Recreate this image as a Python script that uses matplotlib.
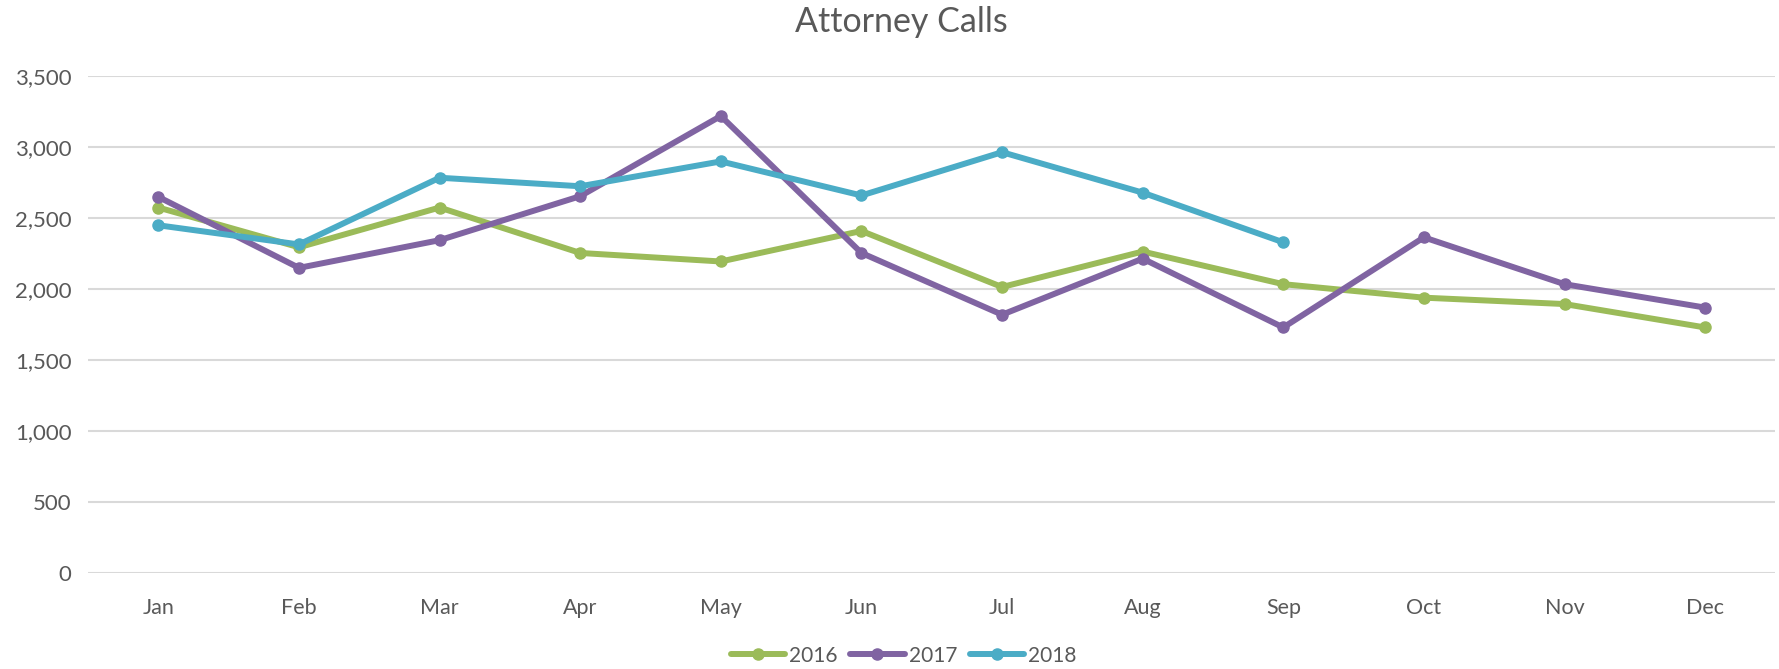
import matplotlib
matplotlib.use("Agg")
import matplotlib.pyplot as plt
from matplotlib.ticker import FuncFormatter, MultipleLocator

months = ["Jan", "Feb", "Mar", "Apr", "May", "Jun", "Jul", "Aug", "Sep", "Oct", "Nov", "Dec"]
calls_2016 = [2575, 2295, 2575, 2255, 2195, 2410, 2015, 2265, 2035, 1940, 1895, 1730]
calls_2017 = [2650, 2150, 2345, 2655, 3220, 2255, 1820, 2215, 1730, 2365, 2035, 1870]
calls_2018 = [2450, 2315, 2785, 2725, 2900, 2660, 2965, 2680, 2330]

series = [("2016", calls_2016, "#9BBB59"),
          ("2017", calls_2017, "#8064A2"),
          ("2018", calls_2018, "#4BACC6")]

plt.rcParams['font.family'] = ['Lato', 'DejaVu Sans']
text_color = "#595959"

fig = plt.figure(figsize=(17.79, 6.69), dpi=100)
ax = fig.add_axes([0.0495, 0.1435, 0.9485, 0.7425])

for label, vals, col in series:
    ax.plot(range(len(vals)), vals, color=col, lw=4.3, marker='o', ms=8,
            label=label, solid_joinstyle='round', solid_capstyle='round')

ax.set_xlim(-0.5, len(months) - 0.5)
ax.set_ylim(0, 3500)
ax.set_xticks(range(len(months)))
ax.set_xticklabels(months)
ax.yaxis.set_major_locator(MultipleLocator(500))
ax.yaxis.set_major_formatter(FuncFormatter(lambda v, p: f"{int(v):,}"))
ax.grid(axis='y', color='#D9D9D9', lw=1.5)
ax.set_axisbelow(True)
for s in ax.spines.values():
    s.set_visible(False)
ax.tick_params(axis='x', length=0, labelsize=15.5, colors=text_color, pad=18)
ax.tick_params(axis='y', length=0, labelsize=16, colors=text_color, pad=12)

fig.text(0.5065, 0.967, "Attorney Calls", ha='center', va='center', fontsize=24.5, color=text_color)

leg = fig.legend(loc='center', bbox_to_anchor=(0.508, 0.02), ncol=3, frameon=False,
                 fontsize=15, handlelength=2.6, handletextpad=0.2, columnspacing=0.6,
                 labelcolor=text_color)

fig.savefig("out.png", dpi=100)
